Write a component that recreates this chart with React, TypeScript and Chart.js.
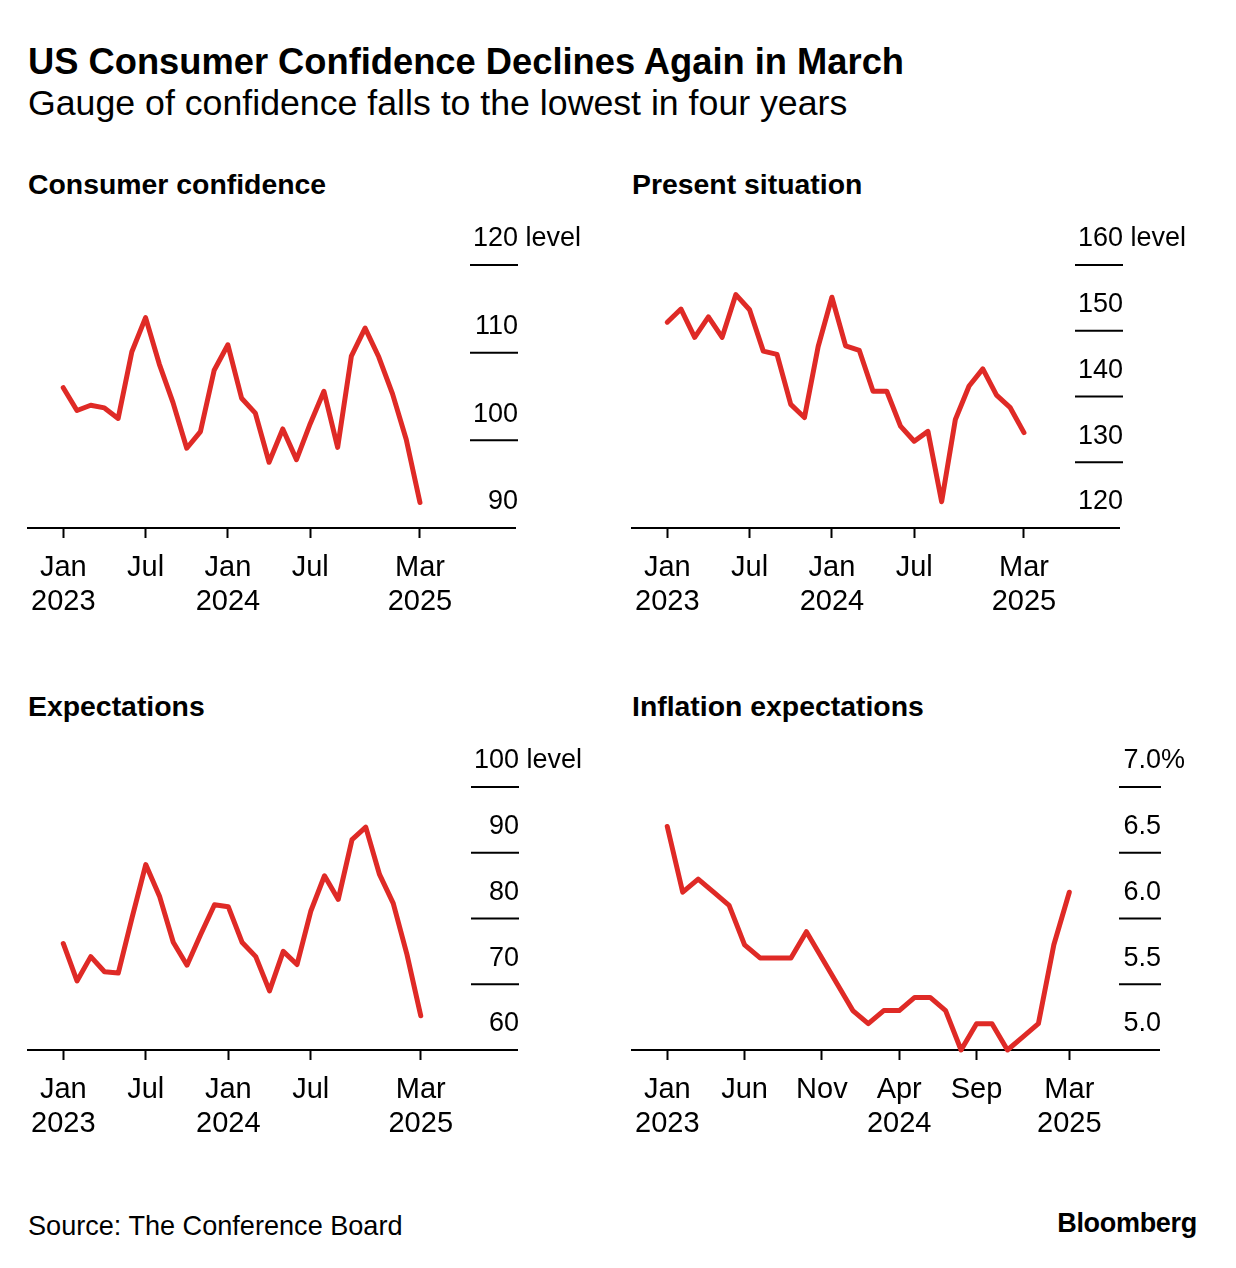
import React, { useEffect, useRef } from "react";
import { Chart, registerables } from "chart.js";

Chart.register(...registerables);

const FONT = '"Liberation Sans", Arial, Helvetica, sans-serif';
Chart.defaults.font.family = FONT;

const RED = "#DF2A26";

// Month index 0 = Jan 2023 ... 26 = Mar 2025
const monthTicks = [0, 6, 12, 18, 26];
const monthTickLabels = [["Jan", "2023"], ["Jul"], ["Jan", "2024"], ["Jul"], ["Mar", "2025"]];
const inflMonthTicks = [0, 5, 10, 15, 20, 26];
const inflMonthTickLabels = [["Jan", "2023"], ["Jun"], ["Nov"], ["Apr", "2024"], ["Sep"], ["Mar", "2025"]];

const confidence = [106.0, 103.4, 104.0, 103.7, 102.5, 110.1, 114.0, 108.7, 104.3, 99.1, 101.0, 108.0, 110.9, 104.8, 103.1, 97.5, 101.3, 97.8, 101.9, 105.6, 99.2, 109.6, 112.8, 109.5, 105.3, 100.1, 92.9];
const present = [151.3, 153.3, 149.0, 152.1, 149.0, 155.5, 153.2, 146.9, 146.4, 138.8, 136.8, 147.6, 155.1, 147.7, 147.0, 140.8, 140.8, 135.5, 133.2, 134.7, 124.0, 136.5, 141.6, 144.2, 140.2, 138.3, 134.5];
const expectations = [76.2, 70.5, 74.2, 71.9, 71.7, 80.1, 88.2, 83.4, 76.4, 72.9, 77.6, 82.1, 81.8, 76.4, 74.2, 69.0, 75.0, 73.0, 81.1, 86.5, 82.9, 92.0, 93.9, 86.7, 82.3, 74.5, 65.2];
const inflation = [6.7, 6.2, 6.3, 6.2, 6.1, 5.8, 5.7, 5.7, 5.7, 5.9, 5.7, 5.5, 5.3, 5.2, 5.3, 5.3, 5.4, 5.4, 5.3, 5.0, 5.2, 5.2, 5.0, 5.1, 5.2, 5.8, 6.2];

const confTicks = [90, 100, 110, 120];
const presentTicks = [120, 130, 140, 150, 160];
const expTicks = [60, 70, 80, 90, 100];
const inflTicks = [5.0, 5.5, 6.0, 6.5, 7.0];

type PanelProps = {
  left: number;
  top: number;
  width: number;
  height: number;
  padL: number;
  padR: number;
  padT: number;
  values: number[];
  xMin: number;
  xMax: number;
  xTicks: number[];
  xLabels: string[][];
  yMin: number;
  yMax: number;
  yTicks: number[];
  digits: number;
  suffix: string;
  segStart: number;
  segEnd: number;
};

function Panel(p: PanelProps) {
  const ref = useRef<HTMLCanvasElement | null>(null);
  useEffect(() => {
    if (!ref.current) return;
    const yLabelPlugin = {
      id: "yLabels",
      afterDraw(chart: any) {
        const { ctx, chartArea, scales } = chart;
        const ys = scales.y;
        ctx.save();
        ctx.font = `27px ${FONT}`;
        ctx.fillStyle = "#000";
        ctx.strokeStyle = "#000";
        ctx.lineWidth = 2;
        const x0 = chartArea.right + p.segStart;
        const x1 = chartArea.right + p.segEnd;
        p.yTicks.forEach((v, i) => {
          const py = ys.getPixelForValue(v);
          if (v > p.yMin) {
            ctx.beginPath();
            ctx.moveTo(x0, py);
            ctx.lineTo(x1, py);
            ctx.stroke();
          }
          const label = v.toFixed(p.digits);
          ctx.textBaseline = "middle";
          ctx.textAlign = "right";
          ctx.fillText(label, x1, py - 26);
          if (i === p.yTicks.length - 1) {
            ctx.textAlign = "left";
            ctx.fillText(p.suffix, x1, py - 26);
          }
        });
        ctx.restore();
      },
    };
    const chart = new Chart(ref.current, {
      type: "line",
      data: {
        datasets: [
          {
            data: p.values.map((v, i) => ({ x: i, y: v })),
            borderColor: RED,
            borderWidth: 5,
            pointRadius: 0,
            tension: 0,
            borderJoinStyle: "round",
            borderCapStyle: "round",
            clip: false,
          } as any,
        ],
      },
      options: {
        animation: false,
        responsive: false,
        maintainAspectRatio: false,
        devicePixelRatio: 1,
        layout: { padding: { left: p.padL, right: p.padR, top: p.padT, bottom: 0 } },
        plugins: { legend: { display: false }, tooltip: { enabled: false }, title: { display: false } },
        scales: {
          x: {
            type: "linear",
            min: p.xMin,
            max: p.xMax,
            afterBuildTicks: (s: any) => {
              s.ticks = p.xTicks.map((v) => ({ value: v }));
            },
            afterFit: (s: any) => {
              s.height = 112;
            },
            ticks: {
              autoSkip: false,
              maxRotation: 0,
              minRotation: 0,
              padding: 13,
              color: "#000",
              font: { size: 29, lineHeight: 1.17 },
              callback: (_v: any, i: number) => p.xLabels[i],
            },
            grid: {
              display: true,
              drawOnChartArea: false,
              drawTicks: true,
              tickLength: 10,
              tickColor: "#000",
              tickWidth: 2,
            },
            border: { display: true, color: "#000", width: 2 },
          } as any,
          y: { display: false, min: p.yMin, max: p.yMax },
        },
      },
      plugins: [yLabelPlugin],
    });
    return () => chart.destroy();
  }, []);
  return (
    <canvas
      ref={ref}
      width={p.width}
      height={p.height}
      style={{ position: "absolute", left: p.left, top: p.top, width: p.width, height: p.height }}
    />
  );
}

const txt = (extra: React.CSSProperties): React.CSSProperties => ({
  position: "absolute",
  whiteSpace: "nowrap",
  lineHeight: 1,
  color: "#000",
  fontFamily: FONT,
  ...extra,
});

export default function App() {
  return (
    <div style={{ position: "absolute", left: 0, top: 0, width: 1236, height: 1268, background: "#fff", overflow: "hidden" }}>
      <div style={txt({ left: 28, top: 44, fontSize: 36.3, fontWeight: 700 })}>US Consumer Confidence Declines Again in March</div>
      <div style={txt({ left: 28, top: 86, fontSize: 35.7 })}>Gauge of confidence falls to the lowest in four years</div>

      <div style={txt({ left: 28, top: 170, fontSize: 28.4, fontWeight: 700 })}>Consumer confidence</div>
      <div style={txt({ left: 632, top: 170, fontSize: 28.4, fontWeight: 700 })}>Present situation</div>
      <div style={txt({ left: 28, top: 692, fontSize: 28.4, fontWeight: 700 })}>Expectations</div>
      <div style={txt({ left: 632, top: 692, fontSize: 28.4, fontWeight: 700 })}>Inflation expectations</div>

      <Panel left={18} top={200} width={592} height={440} padL={0} padR={94} padT={65}
        values={confidence} xMin={-2.55} xMax={33} xTicks={monthTicks} xLabels={monthTickLabels}
        yMin={90} yMax={120} yTicks={confTicks} digits={0} suffix=" level" segStart={-46} segEnd={2} />
      <Panel left={622} top={200} width={608} height={440} padL={0} padR={110} padT={65}
        values={present} xMin={-2.55} xMax={33} xTicks={monthTicks} xLabels={monthTickLabels}
        yMin={120} yMax={160} yTicks={presentTicks} digits={0} suffix=" level" segStart={-45} segEnd={3} />
      <Panel left={18} top={722} width={592} height={440} padL={0} padR={93} padT={65}
        values={expectations} xMin={-2.55} xMax={33} xTicks={monthTicks} xLabels={monthTickLabels}
        yMin={60} yMax={100} yTicks={expTicks} digits={0} suffix=" level" segStart={-46} segEnd={2} />
      <Panel left={622} top={722} width={608} height={440} padL={0} padR={71} padT={65}
        values={inflation} xMin={-2.26} xMax={31.8} xTicks={inflMonthTicks} xLabels={inflMonthTickLabels}
        yMin={5} yMax={7} yTicks={inflTicks} digits={1} suffix="%" segStart={-40} segEnd={2} />

      <div style={txt({ left: 28, top: 1212, fontSize: 27.1 })}>Source: The Conference Board</div>
      <div style={txt({ right: 39, top: 1210, fontSize: 27, fontWeight: 700, letterSpacing: -0.3 })}>Bloomberg</div>
    </div>
  );
}
